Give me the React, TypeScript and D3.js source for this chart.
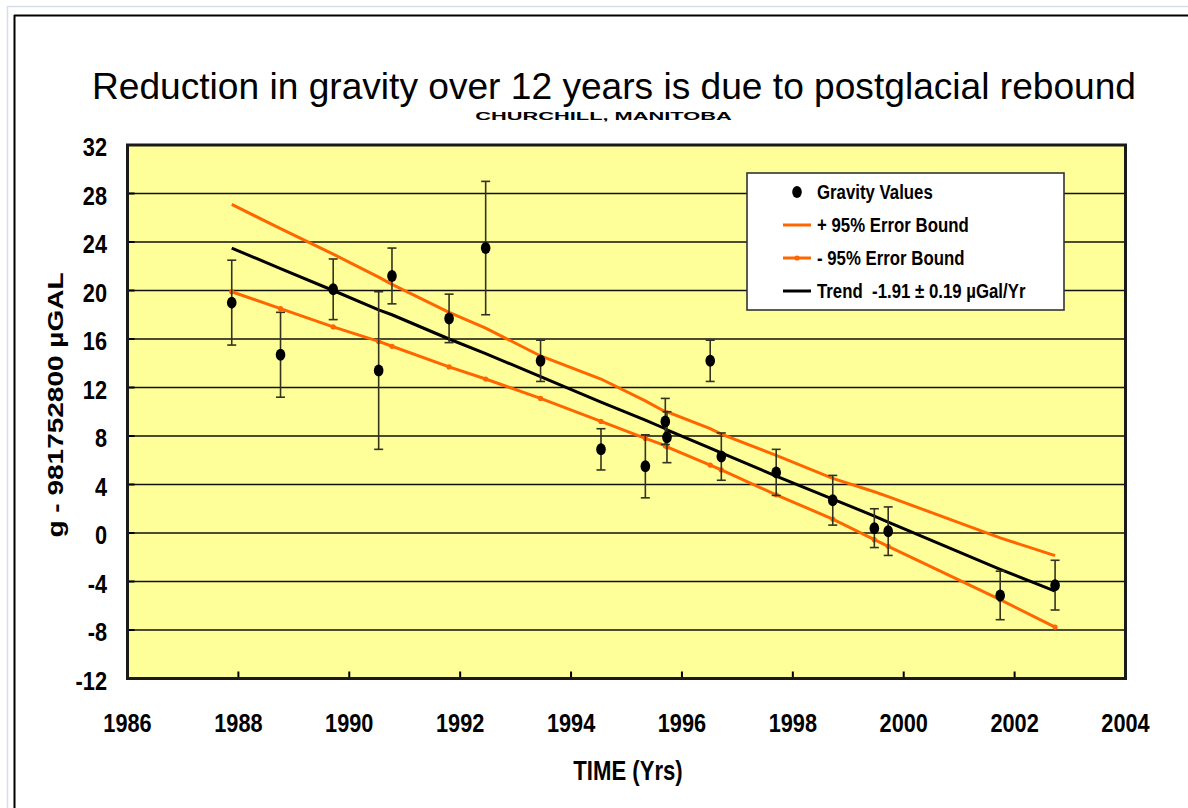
import React from "react";
import * as d3 from "d3";

// Gravity observations at Churchill, Manitoba (g - 981752800 µGal)
const years = [
  1987.88, 1988.76, 1989.71, 1990.53, 1990.77, 1991.8, 1992.46, 1993.45, 1994.54, 1995.34,
  1995.7, 1995.73, 1996.51, 1996.71, 1997.7, 1998.72, 1999.47, 1999.72, 2001.74, 2002.73,
];
const gravity = [
  19.0, 14.7, 20.1, 13.4, 21.2, 17.7, 23.5, 14.2, 6.9, 5.5,
  9.2, 7.9, 14.2, 6.3, 5.0, 2.7, 0.4, 0.15, -5.15, -4.3,
];
const errors = [
  3.5, 3.5, 2.5, 6.5, 2.3, 2.0, 5.5, 1.7, 1.7, 2.6,
  1.9, 2.1, 1.7, 1.95, 1.9, 2.05, 1.6, 2.0, 2.0, 2.05,
];
const upperBound = [
  27.1, 25.1, 23.0, 21.1, 20.5, 18.2, 16.9, 14.6, 12.7, 10.9,
  10.0, 10.0, 8.6, 8.15, 6.4, 4.5, 3.4, 3.0, -0.4, -1.87,
];
const lowerBound = [
  19.9, 18.5, 17.0, 15.8, 15.4, 13.7, 12.7, 11.1, 9.2, 7.8,
  7.2, 7.1, 5.6, 5.2, 3.15, 1.15, -0.55, -1.1, -5.5, -7.76,
];
const trend = [
  23.5, 21.8, 20.0, 18.4, 18.0, 16.0, 14.8, 12.9, 10.8, 9.3,
  8.6, 8.5, 7.0, 6.6, 4.7, 2.8, 1.4, 0.9, -3.0, -4.8,
];

const yTicks = [-12, -8, -4, 0, 4, 8, 12, 16, 20, 24, 28, 32];
const xTicks = [1986, 1988, 1990, 1992, 1994, 1996, 1998, 2000, 2002, 2004];

const legendItems = [
  { label: "Gravity Values", kind: "dot" },
  { label: "+ 95% Error Bound", kind: "upper" },
  { label: "- 95% Error Bound", kind: "lower" },
  { label: "Trend\u00a0\u00a0-1.91 ± 0.19 µGal/Yr", kind: "trend" },
];

const TITLE = "Reduction in gravity over 12 years is due to postglacial rebound";
const SUBTITLE = "CHURCHILL, MANITOBA";

const W = 1188;
const H = 808;
const ORANGE = "#FF6600";
const FONT = "'Liberation Sans', Arial, Helvetica, sans-serif";
const SQUEEZE = 0.82;

const x = d3.scaleLinear().domain([1986, 2004]).range([127.5, 1125.5]);
const y = d3.scaleLinear().domain([-12, 32]).range([678.5, 145]);

type TextProps = {
  x: number;
  y: number;
  size: number;
  anchor?: "start" | "middle" | "end";
  rotate?: boolean;
  scaleY?: number;
  children: React.ReactNode;
};

// Chart text is horizontally condensed bold sans
function CText({ x: tx, y: ty, size, anchor = "start", rotate = false, scaleY = 1, children }: TextProps) {
  return (
    <text
      transform={`translate(${tx},${ty}) scale(${SQUEEZE},${scaleY})${rotate ? " rotate(-90)" : ""}`}
      fontSize={size}
      fontWeight="bold"
      fontFamily={FONT}
      textAnchor={anchor}
      fill="#000"
    >
      {children}
    </text>
  );
}

export default function App() {
  const line = d3
    .line<number>()
    .x((_, i) => x(years[i]))
    .y((d) => y(d));

  const [x0, x1] = x.range();
  const [yb, yt] = y.range();

  return (
    <svg
      width={W}
      height={H}
      viewBox={`0 0 ${W} ${H}`}
      style={{ position: "absolute", left: 0, top: 0, background: "#fff" }}
    >
      {/* slide frame */}
      <rect x={0} y={0} width={W} height={H} fill="#fff" />
      <line x1={7.5} y1={6} x2={7.5} y2={H} stroke="#d6deea" strokeWidth={1.5} />
      <line x1={7} y1={6.5} x2={W} y2={6.5} stroke="#d6deea" strokeWidth={1.5} />
      <line x1={14.5} y1={15} x2={14.5} y2={H} stroke="#000" strokeWidth={2} />
      <line x1={14} y1={15.5} x2={W} y2={15.5} stroke="#000" strokeWidth={2} />

      {/* title */}
      <text
        x={92}
        y={99}
        fontSize={36}
        fontFamily={FONT}
        textLength={1044}
        lengthAdjust="spacingAndGlyphs"
        fill="#000"
      >
        {TITLE}
      </text>
      {/* station name, squeezed into the strip beneath the title */}
      <CText x={603.5} y={119.5} size={26.6} anchor="middle" scaleY={0.4}>
        {SUBTITLE}
      </CText>

      {/* plot area */}
      <rect x={x0} y={yt} width={x1 - x0} height={yb - yt} fill="#FFFF99" />
      {yTicks.slice(1, -1).map((t) => (
        <line key={`g${t}`} x1={x0} x2={x1} y1={y(t)} y2={y(t)} stroke="#111" strokeWidth={1.5} />
      ))}

      {/* confidence bounds and trend */}
      <path d={line(upperBound) || ""} fill="none" stroke={ORANGE} strokeWidth={3} />
      <path d={line(lowerBound) || ""} fill="none" stroke={ORANGE} strokeWidth={3} />
      {lowerBound.map((v, i) => (
        <circle key={`lb${i}`} cx={x(years[i])} cy={y(v)} r={2.6} fill={ORANGE} />
      ))}
      <path d={line(trend) || ""} fill="none" stroke="#000" strokeWidth={3} />

      {/* error bars */}
      {gravity.map((v, i) => {
        const cx = x(years[i]);
        const top = y(v + errors[i]);
        const bot = y(v - errors[i]);
        return (
          <g key={`e${i}`} stroke="#33331f" strokeWidth={1.6}>
            <line x1={cx} x2={cx} y1={top} y2={bot} />
            <line x1={cx - 4.5} x2={cx + 4.5} y1={top} y2={top} />
            <line x1={cx - 4.5} x2={cx + 4.5} y1={bot} y2={bot} />
          </g>
        );
      })}

      {/* gravity values */}
      {gravity.map((v, i) => (
        <ellipse key={`p${i}`} cx={x(years[i])} cy={y(v)} rx={4.8} ry={6} fill="#000" />
      ))}

      {/* axes */}
      {yTicks.map((t) => (
        <line key={`yt${t}`} x1={x0} x2={x0 + 7} y1={y(t)} y2={y(t)} stroke="#000" strokeWidth={2} />
      ))}
      {xTicks.map((t) => (
        <line key={`xt${t}`} x1={x(t)} x2={x(t)} y1={yb} y2={yb - 7} stroke="#000" strokeWidth={2} />
      ))}
      <rect
        x={x0}
        y={yt}
        width={x1 - x0}
        height={yb - yt}
        fill="none"
        stroke="#1a1a1a"
        strokeWidth={3}
      />

      {yTicks.map((t) => (
        <CText key={`yl${t}`} x={107} y={y(t) + 11} size={26.5} anchor="end">
          {t}
        </CText>
      ))}
      {xTicks.map((t) => (
        <CText key={`xl${t}`} x={x(t)} y={731.5} size={26.5} anchor="middle">
          {t}
        </CText>
      ))}

      <CText x={628} y={780} size={27} anchor="middle">
        TIME (Yrs)
      </CText>
      <CText x={63} y={405} size={28} anchor="middle" rotate>
        g - 981752800 µGAL
      </CText>

      {/* legend */}
      <rect x={747} y={173} width={317} height={137} fill="#fff" stroke="#333" strokeWidth={1.6} />
      {legendItems.map((item, i) => {
        const base = 199 + i * 33;
        const cy = base - 7;
        return (
          <g key={item.label}>
            {item.kind === "dot" && <ellipse cx={797} cy={cy} rx={4.8} ry={6} fill="#000" />}
            {item.kind === "upper" && (
              <line x1={783} x2={811} y1={cy} y2={cy} stroke={ORANGE} strokeWidth={3} />
            )}
            {item.kind === "lower" && (
              <g>
                <line x1={783} x2={811} y1={cy} y2={cy} stroke={ORANGE} strokeWidth={3} />
                <circle cx={797} cy={cy} r={2.6} fill={ORANGE} />
              </g>
            )}
            {item.kind === "trend" && (
              <line x1={783} x2={811} y1={cy} y2={cy} stroke="#000" strokeWidth={3} />
            )}
            <CText x={817} y={base} size={20.5}>
              {item.label}
            </CText>
          </g>
        );
      })}
    </svg>
  );
}
